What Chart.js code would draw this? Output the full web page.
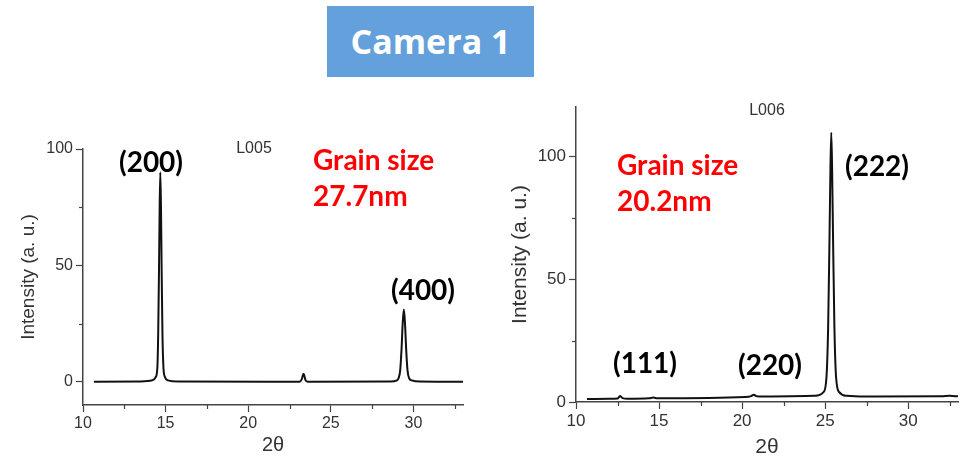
<!DOCTYPE html>
<html>
<head>
<meta charset="utf-8">
<script src="https://cdn.jsdelivr.net/npm/chart.js@4.4.1/dist/chart.umd.min.js"></script>
<style>
  body { margin: 0; background: #fff; width: 961px; height: 460px; position: relative; overflow: hidden; }
  canvas { position: absolute; }
  .box { position: absolute; left: 327px; top: 6px; width: 207px; height: 71px; background: #63a0dc;
         color: #fff; font: 700 34px "Open Sans", sans-serif; line-height: 71px; text-align: center; }
  .lbl { position: absolute; font: 700 28px Lato, sans-serif; color: #000; line-height: 1; transform: translate(-50%, -50%); white-space: nowrap; }
  .grain { position: absolute; font: 700 28px Lato, sans-serif; color: #ff0000; line-height: 36px; white-space: nowrap; }
  .sample { position: absolute; font: 16px "Liberation Sans", Arial, sans-serif; color: #333; line-height: 1; transform: translate(-50%, -50%); }
</style>
</head>
<body>
<div class="box">Camera 1</div>

<canvas id="leftChart" width="480" height="360" style="left:0; top:100px;"></canvas>
<canvas id="rightChart" width="471" height="370" style="left:490px; top:90px;"></canvas>

<div class="sample" style="left:254px; top:148px;">L005</div>
<div class="lbl" style="left:151px; top:161px;">(200)</div>
<div class="lbl" style="left:423px; top:289px;">(400)</div>
<div class="grain" style="left:313px; top:141px;">Grain size<br>27.7nm</div>

<div class="sample" style="left:767px; top:110px;">L006</div>
<div class="lbl" style="left:877px; top:165px;">(222)</div>
<div class="lbl" style="left:645px; top:362px;">(111)</div>
<div class="lbl" style="left:770px; top:364px;">(220)</div>
<div class="grain" style="left:617px; top:146px;">Grain size<br>20.2nm</div>

<script>
// L005 pattern
const leftTheta = [10.66, 13.5, 14.2, 14.4, 14.5, 14.55, 14.6, 14.64, 14.68, 14.72, 14.76, 14.81, 14.87, 14.96, 15.15, 15.8,
                   23.1, 23.25, 23.33, 23.38, 23.46, 23.6,
                   28.6, 29.0, 29.1, 29.2, 29.28, 29.35, 29.42, 29.49, 29.56, 29.64, 29.74, 29.9, 30.4, 33.0];
const leftIntensity = [0, 0.1, 0.6, 2, 6, 20, 48, 75, 90, 75, 48, 20, 6, 2, 0.6, 0.1,
                       0, 1.2, 3.3, 3.0, 0.8, 0,
                       0.1, 0.6, 1.5, 5, 14, 25, 31, 25, 14, 5, 1.5, 0.6, 0.1, 0];

// L006 pattern
const rightTheta = [10.66, 12.0, 12.5, 12.65, 12.8, 13.1, 14.4, 14.65, 14.9, 20.2, 20.55, 20.7, 20.85, 21.2,
                    24.4, 24.9, 25.08, 25.18, 25.26, 25.32, 25.37, 25.42, 25.48, 25.56, 25.66, 25.85, 26.3, 27.5, 32.0, 32.5, 33.0];
const rightIntensity = [1.2, 1.3, 1.4, 2.4, 1.6, 1.3, 1.5, 1.8, 1.5, 2.0, 2.4, 3.0, 2.4, 2.2,
                        2.5, 4, 10, 30, 65, 95, 109.5, 95, 65, 30, 10, 4, 2.5, 2.2, 2.3, 2.5, 2.3];

const xTicks = [10, 15, 20, 25, 30];
const xMinor = [12.5, 17.5, 22.5, 27.5, 32.5];
const yMinor = [25, 75];

const axisColor = '#444';
const tickFont = { family: '"Liberation Sans", Arial, sans-serif' };

// small ticks between the labelled ones
const minorTicks = {
    id: 'minorTicks',
    afterDraw(chart, args, opts) {
        const ctx = chart.ctx;
        const xs = chart.scales.x, ys = chart.scales.y;
        ctx.save();
        ctx.strokeStyle = axisColor;
        ctx.lineWidth = 1.2;
        opts.x.forEach(v => {
            const px = Math.round(xs.getPixelForValue(v)) + 0.5;
            ctx.beginPath(); ctx.moveTo(px, xs.top); ctx.lineTo(px, xs.top + 4); ctx.stroke();
        });
        opts.y.forEach(v => {
            const py = Math.round(ys.getPixelForValue(v)) + 0.5;
            ctx.beginPath(); ctx.moveTo(ys.right, py); ctx.lineTo(ys.right - 4, py); ctx.stroke();
        });
        ctx.restore();
    }
};

function makeChart(id, theta, intensity, cfg) {
    const points = theta.map((t, i) => ({ x: t, y: intensity[i] }));
    return new Chart(document.getElementById(id), {
        type: 'line',
        data: {
            datasets: [{
                data: points,
                borderColor: '#111',
                borderWidth: 2,
                pointRadius: 0,
                cubicInterpolationMode: 'monotone',
                fill: false
            }]
        },
        options: {
            responsive: false,
            animation: false,
            devicePixelRatio: 1,
            layout: { padding: cfg.padding },
            plugins: {
                legend: { display: false },
                tooltip: { enabled: false },
                minorTicks: { x: xMinor, y: yMinor }
            },
            scales: {
                x: {
                    type: 'linear',
                    min: 10, max: 33,
                    afterFit: s => { s.height = cfg.xHeight; },
                    afterBuildTicks: s => { s.ticks = xTicks.map(v => ({ value: v })); },
                    ticks: { stepSize: 5, includeBounds: false, padding: 2, color: '#333', font: { ...tickFont, size: cfg.tickSize } },
                    grid: { drawOnChartArea: false, tickLength: 7, tickColor: axisColor, tickWidth: 1.2 },
                    border: { color: axisColor, width: 1.5 },
                    title: { display: true, text: '2θ', color: '#333', font: { ...tickFont, size: cfg.xTitleSize }, padding: { top: 0, bottom: cfg.xTitlePad } }
                },
                y: {
                    min: cfg.yMin, max: cfg.yMax,
                    afterFit: s => { s.width = cfg.yWidth; },
                    ticks: { stepSize: 50, includeBounds: false, padding: 3, color: '#333', font: { ...tickFont, size: cfg.tickSize } },
                    grid: { drawOnChartArea: false, tickLength: 7, tickColor: axisColor, tickWidth: 1.2 },
                    border: { color: axisColor, width: 1.5 },
                    title: { display: true, text: 'Intensity (a. u.)', color: '#333', font: { ...tickFont, size: cfg.yTitleSize }, padding: { top: cfg.yTitlePad, bottom: 0 } }
                }
            }
        },
        plugins: [minorTicks]
    });
}

makeChart('leftChart', leftTheta, leftIntensity, {
    padding: { left: 0, top: 49, right: 17, bottom: 0 },
    xHeight: 55, yWidth: 83,
    yMin: -10, yMax: 100,
    tickSize: 16, xTitleSize: 20, yTitleSize: 19,
    xTitlePad: 3, yTitlePad: 17
});

makeChart('rightChart', rightTheta, rightIntensity, {
    padding: { left: 0, top: 17, right: 3, bottom: 0 },
    xHeight: 58, yWidth: 86,
    yMin: 0, yMax: 120,
    tickSize: 17, xTitleSize: 21, yTitleSize: 21,
    xTitlePad: 0, yTitlePad: 18
});
</script>
</body>
</html>
